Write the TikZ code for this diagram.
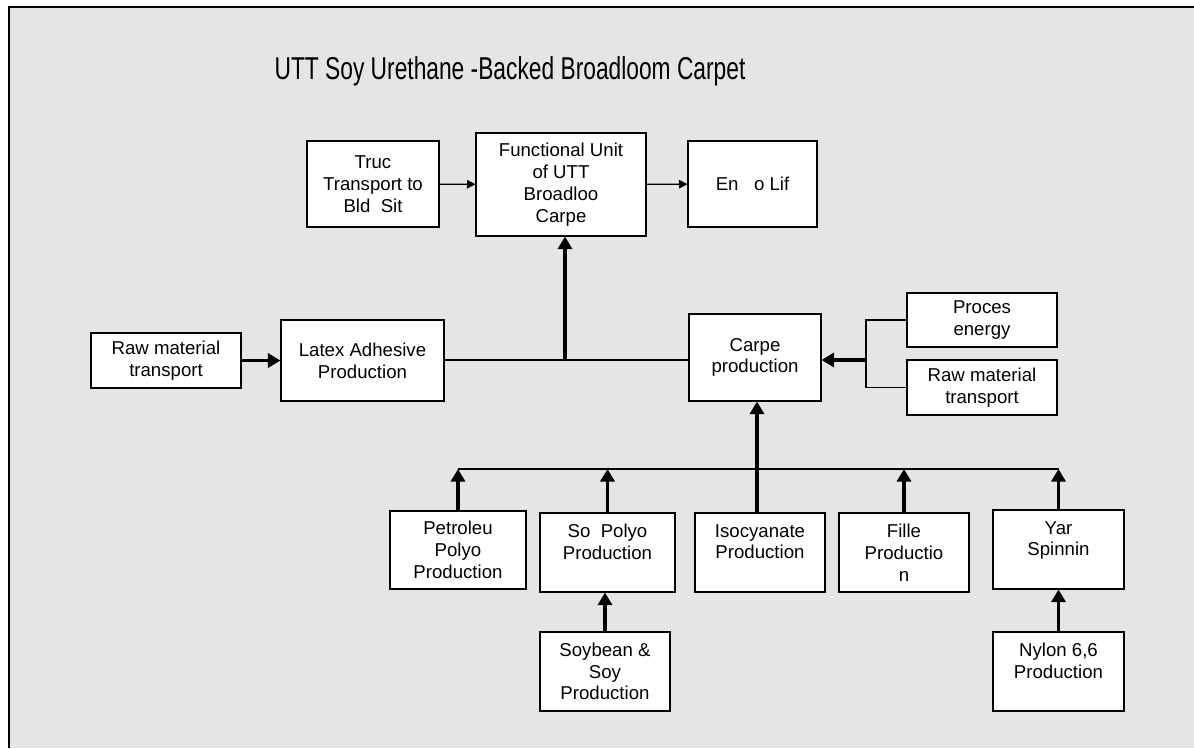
\documentclass[tikz,border=0pt]{standalone}
\usepackage{fontspec}
\setmainfont{Liberation Sans}
\usepackage{tikz}
\usetikzlibrary{arrows.meta, positioning, calc}
\usepackage{xcolor}
\definecolor{slidegray}{RGB}{229,229,229}

\begin{document}
\begin{tikzpicture}[
    x=0.02cm, y=-0.02cm,
    block/.style={rectangle, draw, fill=white, line width=0.6pt, inner sep=0pt, align=center, font=\fontsize{10.6}{12.4}\selectfont},
    arrow/.style={-{Triangle[length=1.7mm, width=1.7mm]}, line width=0.7pt},
    thickarrow/.style={-{Triangle[length=2.5mm, width=2.8mm]}, line width=1.8pt},
    link/.style={line width=0.8pt}
]
\useasboundingbox (0,0) rectangle (1194,748);
\fill[slidegray] (9,7) rectangle (1194,748);
\draw[line width=1.2pt] (9,748) -- (9,7) -- (1194,7);

\node (title) at (510,71) {\scalebox{0.72}[1]{\fontsize{18}{20}\selectfont UTT Soy Urethane -Backed Broadloom Carpet}};

\node[block, minimum width=2.64cm, minimum height=1.72cm] (truck) at (373,184) {Truc\\Transport to\\Bld\ \ Sit};
\node[block, minimum width=3.4cm, minimum height=2.06cm] (fu) at (561,184.5) {Functional Unit\\of UTT\\Broadloo\\Carpe};
\node[block, minimum width=2.58cm, minimum height=1.72cm] (eol) at (752.5,184) {En\ \ \ o Lif};
\node[block, minimum width=3cm, minimum height=1.1cm] (rawleft) at (166,360.5) {Raw material\\transport};
\node[block, minimum width=3.26cm, minimum height=1.62cm] (latex) at (362.5,360.5) {Latex Adhesive\\Production};
\node[block, minimum width=2.64cm, minimum height=1.74cm] (carpet) at (755,357.5) {Carpe\\production};
\node[block, minimum width=3cm, minimum height=1.08cm] (energy) at (982,320) {Proces\\energy};
\node[block, minimum width=3cm, minimum height=1.1cm] (rawright) at (982,387.5) {Raw material\\transport};
\node[block, minimum width=2.72cm, minimum height=1.56cm] (petro) at (458,550) {Petroleu\\Polyo\\Production};
\node[block, minimum width=2.7cm, minimum height=1.58cm] (soypolyol) at (607.5,552.5) {So\ \ Polyo\\Production\\~};
\node[block, minimum width=2.6cm, minimum height=1.58cm] (iso) at (760,552.5) {Isocyanate\\Production\\~};
\node[block, minimum width=2.6cm, minimum height=1.58cm] (filler) at (904,552.5) {Fille\\Productio\\n};
\node[block, minimum width=2.62cm, minimum height=1.58cm] (yarn) at (1058.5,549.5) {Yar\\Spinnin\\~};
\node[block, minimum width=2.6cm, minimum height=1.58cm] (soybean) at (605,671.5) {Soybean \&\\Soy\\Production};
\node[block, minimum width=2.62cm, minimum height=1.58cm] (nylon) at (1058.5,671.5) {Nylon 6,6\\Production\\~};

\coordinate (join) at (565,360);
\coordinate (brace) at (866,360);
\coordinate (bus) at (757,469);

\draw[arrow] (truck) -- (fu);
\draw[arrow] (fu) -- (eol);
\draw[thickarrow] (rawleft) -- (latex);
\draw[link] (latex.east |- join) -- (join -| carpet.west);
\draw[thickarrow] (join) -- (join |- fu.south);
\draw[link] (energy.west) -| (brace) |- (rawright.west);
\draw[thickarrow] (brace) -- (brace -| carpet.east);
\draw[link] (petro.north |- bus) -- (bus -| yarn.north);
\draw[thickarrow] (petro) -- (petro.north |- bus);
\draw[thickarrow] (soypolyol) -- (soypolyol.north |- bus);
\draw[thickarrow] (filler) -- (filler.north |- bus);
\draw[thickarrow] (yarn) -- (yarn.north |- bus);
\draw[thickarrow, line width=2.4pt] (bus |- iso.north) -- (bus |- carpet.south);
\draw[thickarrow] (soybean) -- (soybean |- soypolyol.south);
\draw[thickarrow] (nylon) -- (yarn);
\end{tikzpicture}
\end{document}
